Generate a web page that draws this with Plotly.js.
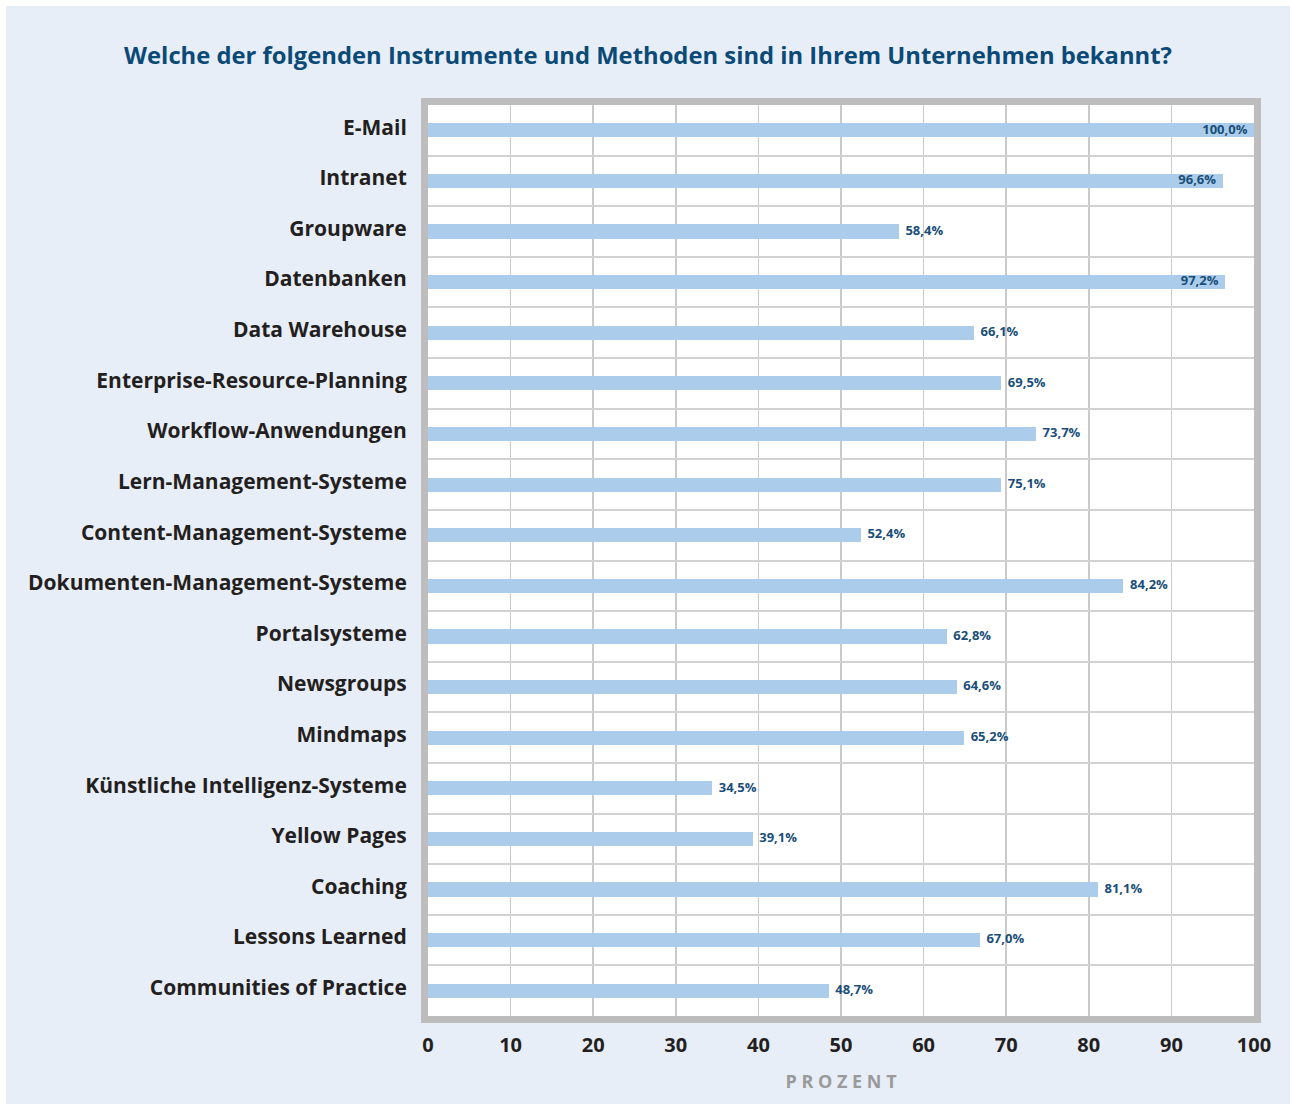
<!DOCTYPE html>
<html>
<head>
<meta charset="utf-8">
<script src="https://cdn.plot.ly/plotly-3.0.1.min.js"></script>
<style>
  html, body { margin: 0; padding: 0; background: #ffffff; }
  #chart { position: absolute; left: 6px; top: 6px; width: 1284px; height: 1098px; }
</style>
</head>
<body>
<div id="chart"></div>
<script>
const categories = [
  "E-Mail", "Intranet", "Groupware", "Datenbanken", "Data Warehouse",
  "Enterprise-Resource-Planning", "Workflow-Anwendungen", "Lern-Management-Systeme",
  "Content-Management-Systeme", "Dokumenten-Management-Systeme", "Portalsysteme",
  "Newsgroups", "Mindmaps", "Künstliche Intelligenz-Systeme", "Yellow Pages",
  "Coaching", "Lessons Learned", "Communities of Practice"
];
// bar lengths as drawn in the picture
const barValues = [100.0, 96.2, 57.0, 96.5, 66.1, 69.4, 73.6, 69.4, 52.4, 84.2, 62.8, 64.0, 64.9, 34.4, 39.3, 81.1, 66.8, 48.5];
// values printed on the labels
const labelValues = [100.0, 96.6, 58.4, 97.2, 66.1, 69.5, 73.7, 75.1, 52.4, 84.2, 62.8, 64.6, 65.2, 34.5, 39.1, 81.1, 67.0, 48.7];
const xTicks = [0, 10, 20, 30, 40, 50, 60, 70, 80, 90, 100];

const labelTexts = labelValues.map(v => v.toFixed(1).replace('.', ',') + '%');
const insideFlags = labelValues.map(v => v > 95);

const bars = {
  type: 'bar',
  orientation: 'h',
  y: categories,
  x: barValues,
  width: 0.28,
  marker: { color: '#abcdeb', line: { width: 0 } },
  hoverinfo: 'skip',
  showlegend: false
};

const labels = {
  type: 'scatter',
  mode: 'markers+text',
  y: categories,
  x: barValues,
  text: labelTexts,
  marker: { size: 9, color: 'rgba(0,0,0,0)' },
  textposition: insideFlags.map(f => f ? 'middle left' : 'middle right'),
  textfont: { family: 'Open Sans, sans-serif', size: 13, color: '#1a4e78', weight: 700 },
  cliponaxis: false,
  hoverinfo: 'skip',
  showlegend: false
};

const layout = {
  width: 1284,
  height: 1098,
  paper_bgcolor: '#e8eef8',
  plot_bgcolor: '#ffffff',
  margin: { l: 422, r: 36, t: 99, b: 88 },
  title: {
    text: 'Welche der folgenden Instrumente und Methoden sind in Ihrem Unternehmen bekannt?',
    font: { family: 'Open Sans, sans-serif', size: 23.8, color: '#0b4a77', weight: 700 },
    x: 0.5, xanchor: 'center', y: 0.955, yanchor: 'middle'
  },
  xaxis: {
    range: [0, 100],
    tickvals: xTicks,
    ticktext: xTicks.map(String),
    showgrid: true,
    gridcolor: '#cacaca',
    gridwidth: 1.5,
    zeroline: false,
    showline: true,
    linecolor: '#bdbdbd',
    linewidth: 7,
    mirror: true,
    ticks: '',
    ticklabelstandoff: 5,
    tickfont: { family: 'Open Sans, sans-serif', size: 20, color: '#231f20', weight: 700 },
    title: {
      text: 'P R O Z E N T',
      font: { family: 'Open Sans, sans-serif', size: 18, color: '#9a9a9a', weight: 700 },
      standoff: 21
    },
    fixedrange: true
  },
  yaxis: {
    type: 'category',
    range: [categories.length - 0.5, -0.5],
    tickson: 'boundaries',
    showgrid: true,
    gridcolor: '#d2d2d2',
    gridwidth: 2,
    zeroline: false,
    showline: true,
    linecolor: '#bdbdbd',
    linewidth: 7,
    mirror: true,
    ticks: '',
    ticklabelstandoff: 10,
    ticklabelshift: 3,
    tickfont: { family: 'Open Sans, sans-serif', size: 21, color: '#231f20', weight: 700 },
    fixedrange: true
  },
  bargap: 0
};

Plotly.newPlot('chart', [bars, labels], layout, { displayModeBar: false, staticPlot: true });
</script>
</body>
</html>
